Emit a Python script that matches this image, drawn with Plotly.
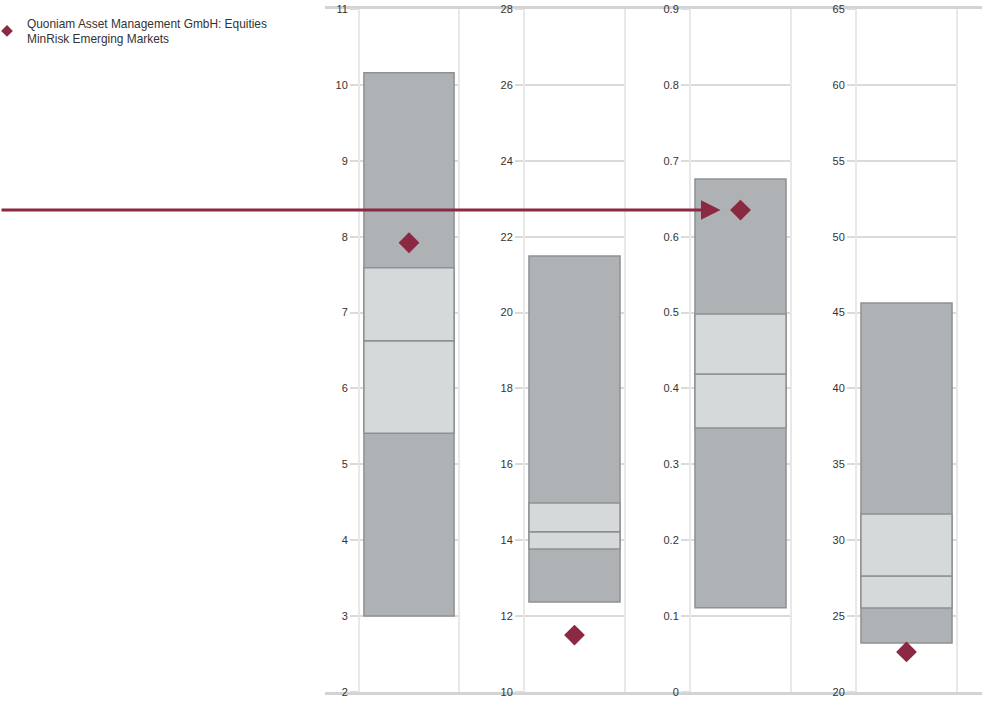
import plotly.graph_objects as go

# Data
panel_min = [3.0, 12.37, 0.111, 23.23]
panel_q1 = [5.41, 13.77, 0.348, 25.54]
panel_median = [6.63, 14.22, 0.419, 27.65]
panel_q3 = [7.59, 14.98, 0.498, 31.73]
panel_max = [10.16, 21.49, 0.676, 45.63]
fund_values = [7.92, 11.5, 0.635, 22.64]
fund_name = "Quoniam Asset Management GmbH: Equities<br>MinRisk Emerging Markets"
y_ranges = [[2, 11], [10, 28], [0, 0.9], [20, 65]]
y_dticks = [1, 2, 0.1, 5]
arrow_panel = 2  # zero-based index of the panel the arrow points to

W, H = 982, 703
domains_px = [(360, 458), (525, 624), (691, 790), (857, 956)]
frame_px = (325, 982)

DARK = "#aeb2b5"
LIGHT = "#d6d9da"
EDGE = "#8e9194"
RED = "#8b2942"
FONT = "Liberation Sans, Arial, sans-serif"

fig = go.Figure()
# frame subplot (x/y) drawn first: top and bottom rules across all panels
fig.add_trace(go.Scatter(x=[], y=[], xaxis="x", yaxis="y",
                         showlegend=False, hoverinfo="skip"))

for i in range(4):
    xa = f"x{i+2}"
    ya = f"y{i+2}"
    segs = [
        (panel_min[i], panel_max[i], DARK),
        (panel_q1[i], panel_median[i], LIGHT),
        (panel_median[i], panel_q3[i], LIGHT),
    ]
    for lo, hi, col in segs:
        fig.add_trace(go.Bar(
            x=[0], y=[hi - lo], base=[lo], width=0.92,
            marker=dict(color=col, line=dict(color=EDGE, width=1.5)),
            xaxis=xa, yaxis=ya, showlegend=False, hoverinfo="skip",
        ))
    fig.add_trace(go.Scatter(
        x=[0], y=[fund_values[i]], mode="markers",
        marker=dict(symbol="diamond", size=16, color=RED),
        xaxis=xa, yaxis=ya, name=fund_name, showlegend=False,
    ))

# legend entry (smaller symbol, as in the reference legend)
fig.add_trace(go.Scatter(
    x=[None], y=[None], mode="markers", xaxis="x2", yaxis="y2",
    marker=dict(symbol="diamond", size=9, color=RED),
    name=fund_name, showlegend=True,
))

layout = dict(
    width=W, height=H,
    margin=dict(l=0, r=0, t=9, b=11, autoexpand=False),
    plot_bgcolor="rgba(0,0,0,0)", paper_bgcolor="white",
    barmode="overlay",
    font=dict(family=FONT, size=11, color="#333333"),
    legend=dict(x=-13 / W, y=1.0, xanchor="left", yanchor="top",
                xref="paper", yref="paper",
                font=dict(size=11.9, color="#333333"),
                bgcolor="rgba(0,0,0,0)", itemwidth=30),
    showlegend=True,
    xaxis=dict(domain=[frame_px[0] / W, frame_px[1] / W], anchor="y",
               showline=True, mirror=True, linecolor="#d3d3d3", linewidth=2.5,
               showgrid=False, zeroline=False, showticklabels=False,
               ticks="", fixedrange=True),
    yaxis=dict(domain=[0, 1], anchor="x", visible=False,
               showgrid=False, zeroline=False, fixedrange=True),
)
for i in range(4):
    sx = str(i + 2)
    d0, d1 = domains_px[i]
    layout[f"xaxis{sx}"] = dict(
        domain=[d0 / W, d1 / W], range=[-0.5, 0.5],
        showgrid=False, zeroline=False, showticklabels=False,
        showline=False, fixedrange=True,
        anchor=f"y{sx}",
    )
    layout[f"yaxis{sx}"] = dict(
        range=y_ranges[i], dtick=y_dticks[i], tick0=y_ranges[i][0],
        anchor=f"x{sx}", fixedrange=True,
        showgrid=True, gridcolor="#dadada", gridwidth=2,
        zeroline=False,
        showline=True, linecolor="#e8e8e8", linewidth=2, mirror=True,
        ticks="outside", ticklen=8, tickcolor="#dadada", tickwidth=2,
        tickfont=dict(size=11, color="#333333"),
    )
fig.update_layout(**layout)

# Arrow pointing to the fund's marker in the highlighted panel
sx = str(arrow_panel + 2)
fig.add_annotation(
    x=0, y=fund_values[arrow_panel], xref=f"x{sx}", yref=f"y{sx}",
    ax=-800, ay=0, axref="pixel", ayref="pixel",
    showarrow=True, arrowhead=2, arrowsize=1.3, arrowwidth=3,
    arrowcolor=RED, standoff=20, text="",
)

fig.write_html("out.html",
               config={"displayModeBar": False},
               post_script="document.body.style.margin='0';"
                           "document.documentElement.style.margin='0';")
